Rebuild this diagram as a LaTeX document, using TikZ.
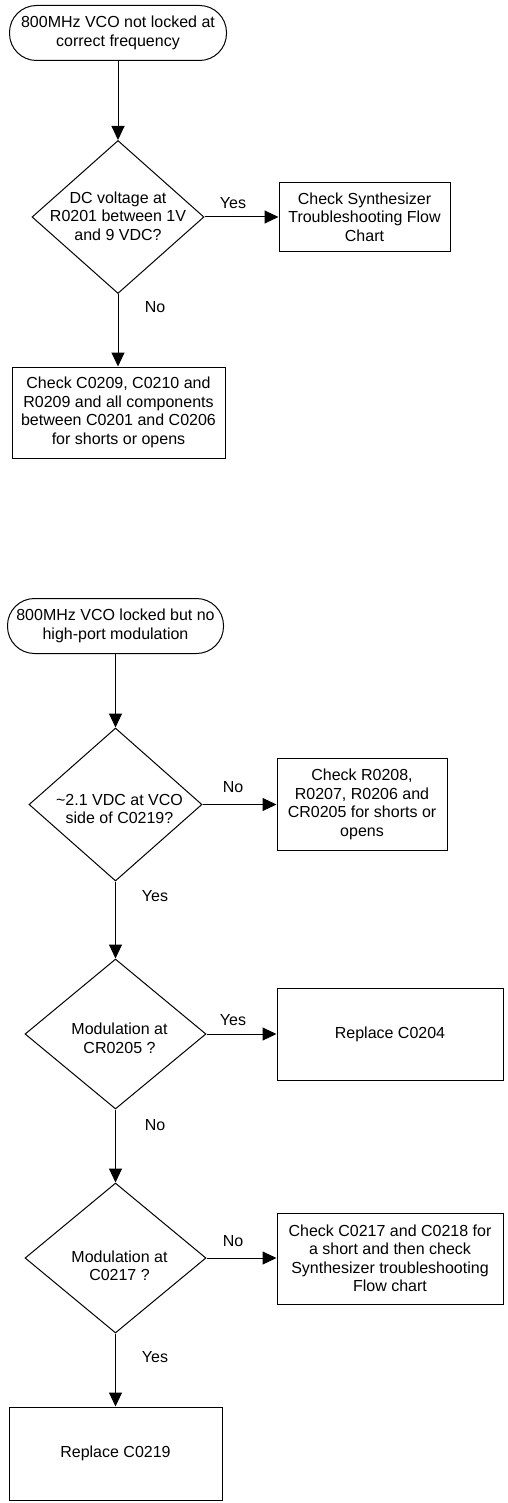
\documentclass[tikz,border=0pt]{standalone}
\usepackage{fontspec}
\setmainfont{Liberation Sans}
\usetikzlibrary{shapes.geometric,arrows.meta}
\begin{document}
\begin{tikzpicture}[x=1pt,y=-1pt,
  font=\fontsize{16}{18.5}\selectfont,
  term/.style={draw, rounded corners=27pt, line width=1pt, inner sep=0pt, align=center, minimum height=55pt},
  box/.style={draw, line width=1pt, inner sep=0pt, align=center},
  dec/.style={draw, diamond, line width=1pt, inner sep=0pt},
  txt/.style={align=center, inner sep=0pt},
  conn/.style={line width=1pt, -{Triangle[length=14pt,width=13pt]}},
  lab/.style={inner sep=0pt}
]
\useasboundingbox (0,0) rectangle (508,1503);

% ---- first chart ----
\node[term, minimum width=217pt] (t1) at (118,33) {800MHz VCO not locked at\\correct frequency};
\node[dec, minimum width=172pt, minimum height=153pt] (d1) at (118,217) {};
\node[txt] (d1t) at (118,216) {DC voltage at\\R0201 between 1V\\and 9 VDC?};
\node[box, minimum width=171pt, minimum height=69pt] (b1) at (364.5,217) {Check Synthesizer\\Troubleshooting Flow\\Chart};
\node[box, minimum width=213pt, minimum height=91pt] (b2) at (118.5,412.5) {Check C0209, C0210 and\\R0209 and all components\\between C0201 and C0206\\for shorts or opens};

\draw[conn] (t1.south) -- (d1.north);
\draw[conn] (d1.east) -- (b1.west -| d1.east) -- (b1.west);
\draw[conn] (d1.south) -- (d1.south |- b2.north);
\node[lab] (l1) at (233,203) {Yes};
\node[lab] (l2) at (155,307) {No};

% ---- second chart ----
\node[term, minimum width=216pt] (t2) at (115.5,626) {800MHz VCO locked but no\\high-port modulation};
\node[dec, minimum width=173pt, minimum height=153pt] (d2) at (115.5,804.5) {};
\node[txt] (d2t) at (119.5,809) {\textasciitilde 2.1 VDC at VCO\\side of C0219?};
\node[box, minimum width=170pt, minimum height=92pt] (b3) at (362,804.5) {Check R0208,\\R0207, R0206 and\\CR0205 for shorts or\\opens};

\node[dec, minimum width=181pt, minimum height=150pt] (d3) at (115.5,1034) {};
\node[txt] (d3t) at (119.5,1038.5) {Modulation at\\CR0205 ?};
\node[box, minimum width=226pt, minimum height=92pt] (b4) at (390,1034) {Replace C0204};

\node[dec, minimum width=181pt, minimum height=150pt] (d4) at (115.5,1258) {};
\node[txt] (d4t) at (119.5,1266) {Modulation at\\C0217 ?};
\node[box, minimum width=226pt, minimum height=91pt] (b5) at (390,1258.5) {Check C0217 and C0218 for\\a short and then check\\Synthesizer troubleshooting\\Flow chart};

\node[box, minimum width=213pt, minimum height=93pt] (b6) at (115.5,1453.5) {Replace C0219};

\draw[conn] (t2.south) -- (d2.north);
\draw[conn] (d2.east) -- (b3.west);
\draw[conn] (d2.south) -- (d3.north);
\draw[conn] (d3.east) -- (b4.west);
\draw[conn] (d3.south) -- (d4.north);
\draw[conn] (d4.east) -- (b5.west |- d4.east);
\draw[conn] (d4.south) -- (b6.north);

\node[lab] (l3) at (233,787) {No};
\node[lab] (l4) at (155,896) {Yes};
\node[lab] (l5) at (233,1020) {Yes};
\node[lab] (l6) at (155,1125) {No};
\node[lab] (l7) at (233,1241) {No};
\node[lab] (l8) at (155,1357) {Yes};
\end{tikzpicture}
\end{document}
